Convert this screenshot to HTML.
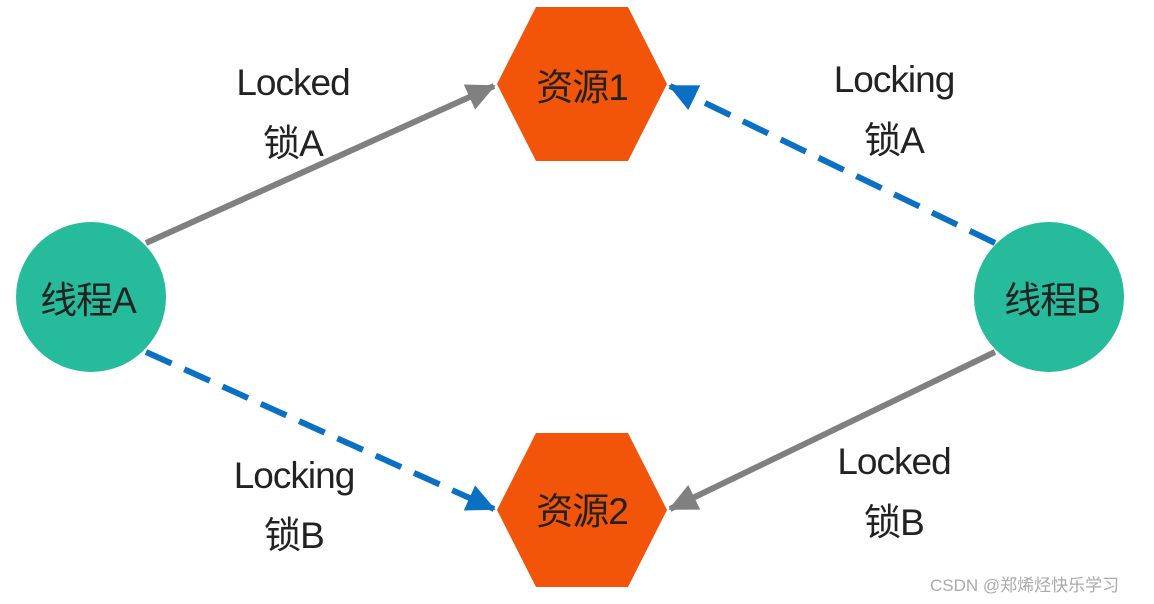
<!DOCTYPE html>
<html><head><meta charset="utf-8"><style>
html,body{margin:0;padding:0;background:#fff;width:1154px;height:604px;overflow:hidden}
text{font-family:"Liberation Sans","Noto Sans CJK SC",sans-serif;fill:#222}
</style></head><body>
<svg width="1154" height="604" xmlns="http://www.w3.org/2000/svg">
<defs>
<marker id="ag" markerWidth="5" markerHeight="5" refX="4.5" refY="2.5" orient="auto" markerUnits="strokeWidth"><path d="M0,0.2 L4.8,2.5 L0,4.8 Z" fill="#808080"/></marker>
<marker id="ab" markerWidth="5" markerHeight="5" refX="4.5" refY="2.5" orient="auto" markerUnits="strokeWidth"><path d="M0,0.2 L4.8,2.5 L0,4.8 Z" fill="#0a70c4"/></marker>
</defs>
<polygon points="497,84 536,7 628,7 667,84 628,161 536,161" fill="#f2540a"/>
<polygon points="497,510 536,433 628,433 667,510 628,587 536,587" fill="#f2540a"/>
<circle cx="91" cy="297" r="75" fill="#26bc9b"/>
<circle cx="1049" cy="297" r="75" fill="#26bc9b"/>
<line x1="146" y1="243" x2="494" y2="86" stroke="#808080" stroke-width="6" marker-end="url(#ag)"/>
<line x1="995" y1="352" x2="670" y2="509" stroke="#808080" stroke-width="6" marker-end="url(#ag)"/>
<line x1="995" y1="243" x2="670" y2="86" stroke="#0a70c4" stroke-width="6" stroke-dasharray="28,14" marker-end="url(#ab)"/>
<line x1="146" y1="352" x2="494" y2="509" stroke="#0a70c4" stroke-width="6" stroke-dasharray="28,14" marker-end="url(#ab)"/>
<g font-size="37" text-anchor="middle" letter-spacing="-1">
<text x="582" y="100">资源1</text>
<text x="582" y="524">资源2</text>
<text x="88" y="313">线程A</text>
<text x="1052" y="313">线程B</text>
<text x="293" y="95">Locked</text>
<text x="293" y="156">锁A</text>
<text x="894" y="92">Locking</text>
<text x="894" y="153">锁A</text>
<text x="294" y="488">Locking</text>
<text x="294" y="548">锁B</text>
<text x="894" y="474">Locked</text>
<text x="894" y="535">锁B</text>
</g>
<text x="930" y="591" font-size="17" style="fill:#aaa">CSDN @郑烯烃快乐学习</text>
</svg>
</body></html>
